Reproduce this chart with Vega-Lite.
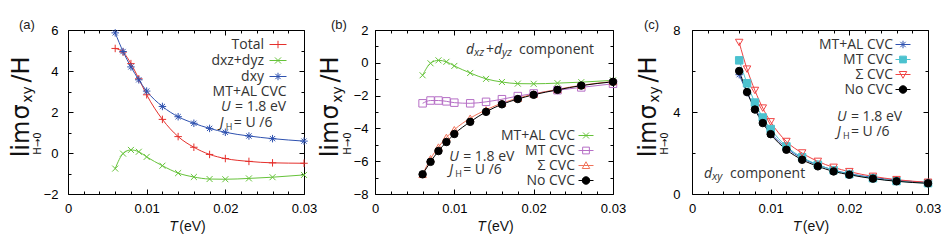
{
  "$schema": "https://vega.github.io/schema/vega-lite/v6.json",
  "padding": {"left": 8, "top": 18, "right": 0, "bottom": 0},
  "datasets": {
    "a": [
      {"T": 0.006, "v": 5.10, "s": "Total"}, {"T": 0.007, "v": 4.92, "s": "Total"}, {"T": 0.008, "v": 4.36, "s": "Total"}, {"T": 0.009, "v": 3.62, "s": "Total"}, {"T": 0.010, "v": 2.84, "s": "Total"}, {"T": 0.012, "v": 1.64, "s": "Total"}, {"T": 0.014, "v": 0.80, "s": "Total"}, {"T": 0.016, "v": 0.28, "s": "Total"}, {"T": 0.018, "v": -0.07, "s": "Total"}, {"T": 0.020, "v": -0.27, "s": "Total"}, {"T": 0.023, "v": -0.41, "s": "Total"}, {"T": 0.026, "v": -0.48, "s": "Total"}, {"T": 0.030, "v": -0.50, "s": "Total"},
      {"T": 0.006, "v": -0.76, "s": "dxz+dyz"}, {"T": 0.007, "v": -0.03, "s": "dxz+dyz"}, {"T": 0.008, "v": 0.15, "s": "dxz+dyz"}, {"T": 0.009, "v": 0.06, "s": "dxz+dyz"}, {"T": 0.010, "v": -0.19, "s": "dxz+dyz"}, {"T": 0.012, "v": -0.62, "s": "dxz+dyz"}, {"T": 0.014, "v": -0.98, "s": "dxz+dyz"}, {"T": 0.016, "v": -1.17, "s": "dxz+dyz"}, {"T": 0.018, "v": -1.27, "s": "dxz+dyz"}, {"T": 0.020, "v": -1.28, "s": "dxz+dyz"}, {"T": 0.023, "v": -1.24, "s": "dxz+dyz"}, {"T": 0.026, "v": -1.18, "s": "dxz+dyz"}, {"T": 0.030, "v": -1.07, "s": "dxz+dyz"},
      {"T": 0.006, "v": 5.86, "s": "dxy"}, {"T": 0.007, "v": 4.95, "s": "dxy"}, {"T": 0.008, "v": 4.20, "s": "dxy"}, {"T": 0.009, "v": 3.57, "s": "dxy"}, {"T": 0.010, "v": 3.02, "s": "dxy"}, {"T": 0.012, "v": 2.27, "s": "dxy"}, {"T": 0.014, "v": 1.77, "s": "dxy"}, {"T": 0.016, "v": 1.45, "s": "dxy"}, {"T": 0.018, "v": 1.20, "s": "dxy"}, {"T": 0.020, "v": 1.01, "s": "dxy"}, {"T": 0.023, "v": 0.83, "s": "dxy"}, {"T": 0.026, "v": 0.70, "s": "dxy"}, {"T": 0.030, "v": 0.58, "s": "dxy"}
    ],
    "b": [
      {"T": 0.006, "v": -0.76, "s": "MT+AL CVC"}, {"T": 0.007, "v": -0.03, "s": "MT+AL CVC"}, {"T": 0.008, "v": 0.15, "s": "MT+AL CVC"}, {"T": 0.009, "v": 0.06, "s": "MT+AL CVC"}, {"T": 0.010, "v": -0.19, "s": "MT+AL CVC"}, {"T": 0.012, "v": -0.62, "s": "MT+AL CVC"}, {"T": 0.014, "v": -0.98, "s": "MT+AL CVC"}, {"T": 0.016, "v": -1.17, "s": "MT+AL CVC"}, {"T": 0.018, "v": -1.27, "s": "MT+AL CVC"}, {"T": 0.020, "v": -1.28, "s": "MT+AL CVC"}, {"T": 0.023, "v": -1.24, "s": "MT+AL CVC"}, {"T": 0.026, "v": -1.18, "s": "MT+AL CVC"}, {"T": 0.030, "v": -1.07, "s": "MT+AL CVC"},
      {"T": 0.006, "v": -2.47, "s": "MT CVC"}, {"T": 0.007, "v": -2.30, "s": "MT CVC"}, {"T": 0.008, "v": -2.30, "s": "MT CVC"}, {"T": 0.009, "v": -2.35, "s": "MT CVC"}, {"T": 0.010, "v": -2.43, "s": "MT CVC"}, {"T": 0.012, "v": -2.47, "s": "MT CVC"}, {"T": 0.014, "v": -2.38, "s": "MT CVC"}, {"T": 0.016, "v": -2.22, "s": "MT CVC"}, {"T": 0.018, "v": -2.03, "s": "MT CVC"}, {"T": 0.020, "v": -1.87, "s": "MT CVC"}, {"T": 0.023, "v": -1.67, "s": "MT CVC"}, {"T": 0.026, "v": -1.50, "s": "MT CVC"}, {"T": 0.030, "v": -1.28, "s": "MT CVC"},
      {"T": 0.006, "v": -6.80, "s": "Σ CVC"}, {"T": 0.007, "v": -5.85, "s": "Σ CVC"}, {"T": 0.008, "v": -5.14, "s": "Σ CVC"}, {"T": 0.009, "v": -4.55, "s": "Σ CVC"}, {"T": 0.010, "v": -4.08, "s": "Σ CVC"}, {"T": 0.012, "v": -3.38, "s": "Σ CVC"}, {"T": 0.014, "v": -2.87, "s": "Σ CVC"}, {"T": 0.016, "v": -2.46, "s": "Σ CVC"}, {"T": 0.018, "v": -2.16, "s": "Σ CVC"}, {"T": 0.020, "v": -1.91, "s": "Σ CVC"}, {"T": 0.023, "v": -1.62, "s": "Σ CVC"}, {"T": 0.026, "v": -1.37, "s": "Σ CVC"}, {"T": 0.030, "v": -1.14, "s": "Σ CVC"},
      {"T": 0.006, "v": -6.80, "s": "No CVC"}, {"T": 0.007, "v": -6.04, "s": "No CVC"}, {"T": 0.008, "v": -5.38, "s": "No CVC"}, {"T": 0.009, "v": -4.83, "s": "No CVC"}, {"T": 0.010, "v": -4.34, "s": "No CVC"}, {"T": 0.012, "v": -3.60, "s": "No CVC"}, {"T": 0.014, "v": -2.99, "s": "No CVC"}, {"T": 0.016, "v": -2.53, "s": "No CVC"}, {"T": 0.018, "v": -2.21, "s": "No CVC"}, {"T": 0.020, "v": -1.95, "s": "No CVC"}, {"T": 0.023, "v": -1.65, "s": "No CVC"}, {"T": 0.026, "v": -1.39, "s": "No CVC"}, {"T": 0.030, "v": -1.16, "s": "No CVC"}
    ],
    "c": [
      {"T": 0.006, "v": 5.82, "s": "MT+AL CVC"}, {"T": 0.007, "v": 4.95, "s": "MT+AL CVC"}, {"T": 0.008, "v": 4.18, "s": "MT+AL CVC"}, {"T": 0.009, "v": 3.55, "s": "MT+AL CVC"}, {"T": 0.010, "v": 3.00, "s": "MT+AL CVC"}, {"T": 0.012, "v": 2.25, "s": "MT+AL CVC"}, {"T": 0.014, "v": 1.74, "s": "MT+AL CVC"}, {"T": 0.016, "v": 1.42, "s": "MT+AL CVC"}, {"T": 0.018, "v": 1.17, "s": "MT+AL CVC"}, {"T": 0.020, "v": 0.99, "s": "MT+AL CVC"}, {"T": 0.023, "v": 0.81, "s": "MT+AL CVC"}, {"T": 0.026, "v": 0.68, "s": "MT+AL CVC"}, {"T": 0.030, "v": 0.56, "s": "MT+AL CVC"},
      {"T": 0.006, "v": 6.52, "s": "MT CVC"}, {"T": 0.007, "v": 5.40, "s": "MT CVC"}, {"T": 0.008, "v": 4.46, "s": "MT CVC"}, {"T": 0.009, "v": 3.73, "s": "MT CVC"}, {"T": 0.010, "v": 3.17, "s": "MT CVC"}, {"T": 0.012, "v": 2.32, "s": "MT CVC"}, {"T": 0.014, "v": 1.79, "s": "MT CVC"}, {"T": 0.016, "v": 1.43, "s": "MT CVC"}, {"T": 0.018, "v": 1.16, "s": "MT CVC"}, {"T": 0.020, "v": 0.97, "s": "MT CVC"}, {"T": 0.023, "v": 0.77, "s": "MT CVC"}, {"T": 0.026, "v": 0.63, "s": "MT CVC"}, {"T": 0.030, "v": 0.53, "s": "MT CVC"},
      {"T": 0.006, "v": 7.39, "s": "Σ CVC"}, {"T": 0.007, "v": 6.09, "s": "Σ CVC"}, {"T": 0.008, "v": 5.05, "s": "Σ CVC"}, {"T": 0.009, "v": 4.19, "s": "Σ CVC"}, {"T": 0.010, "v": 3.52, "s": "Σ CVC"}, {"T": 0.012, "v": 2.56, "s": "Σ CVC"}, {"T": 0.014, "v": 2.00, "s": "Σ CVC"}, {"T": 0.016, "v": 1.59, "s": "Σ CVC"}, {"T": 0.018, "v": 1.30, "s": "Σ CVC"}, {"T": 0.020, "v": 1.09, "s": "Σ CVC"}, {"T": 0.023, "v": 0.86, "s": "Σ CVC"}, {"T": 0.026, "v": 0.70, "s": "Σ CVC"}, {"T": 0.030, "v": 0.57, "s": "Σ CVC"},
      {"T": 0.006, "v": 6.00, "s": "No CVC"}, {"T": 0.007, "v": 4.97, "s": "No CVC"}, {"T": 0.008, "v": 4.12, "s": "No CVC"}, {"T": 0.009, "v": 3.46, "s": "No CVC"}, {"T": 0.010, "v": 2.92, "s": "No CVC"}, {"T": 0.012, "v": 2.16, "s": "No CVC"}, {"T": 0.014, "v": 1.67, "s": "No CVC"}, {"T": 0.016, "v": 1.35, "s": "No CVC"}, {"T": 0.018, "v": 1.10, "s": "No CVC"}, {"T": 0.020, "v": 0.94, "s": "No CVC"}, {"T": 0.023, "v": 0.75, "s": "No CVC"}, {"T": 0.026, "v": 0.62, "s": "No CVC"}, {"T": 0.030, "v": 0.52, "s": "No CVC"}
    ]
  },
  "spacing": 0,
  "resolve": {"scale": {"x": "independent", "y": "independent", "stroke": "independent", "fill": "independent", "shape": "independent"}, "legend": {"stroke": "independent", "fill": "independent", "shape": "independent"}},
  "hconcat": [
    {
      "width": 236, "height": 164,
      "title": {"text": "(a)", "dx": -49, "dy": 4},
      "data": {"name": "a"},
      "resolve": {"axis": {"x": "independent", "y": "independent"}},
      "layer": [
        {"mark": {"type": "line", "interpolate": "monotone", "strokeWidth": 1},
         "encoding": {
           "x": {"field": "T", "type": "quantitative", "scale": {"domain": [0, 0.03], "nice": false, "zero": false},
                 "axis": {"orient": "bottom", "values": [0, 0.01, 0.02, 0.03], "format": ".2~f", "tickSize": -5, "labelPadding": 13, "labelFlush": false, "title": null, "offset": 0}},
           "y": {"field": "v", "type": "quantitative", "scale": {"domain": [-2, 6], "nice": false, "zero": false},
                 "axis": {"orient": "left", "values": [-2, 0, 2, 4, 6], "tickSize": -5, "labelPadding": 15, "title": null, "offset": 0}},
           "stroke": {"field": "s", "type": "nominal", "scale": {"domain": ["Total", "dxz+dyz", "dxy"], "range": ["#e5302c", "#66c33a", "#2f52b0"]},
             "legend": {"orient": "none", "legendX": 201, "legendY": 5.5, "title": null, "labelAlign": "right", "labelOffset": -23, "symbolSize": 289,
               "encoding": {"symbols": {"shape": {"value": {"expr": "datum.value == 'Total' ? 'M-1,0H1M0,-0.44V0.44' : datum.value == 'dxz+dyz' ? 'M-1,0H1M-0.36,-0.36L0.36,0.36M-0.36,0.36L0.36,-0.36' : 'M-1,0H1M0,-0.44V0.44M-0.31,-0.31L0.31,0.31M-0.31,0.31L0.31,-0.31'"}}}}}}
         }},
        {"mark": {"type": "point", "size": 56, "strokeWidth": 1, "opacity": 1, "filled": false},
         "encoding": {
           "x": {"field": "T", "type": "quantitative", "axis": {"orient": "bottom", "values": [0.002, 0.004, 0.006, 0.008, 0.012, 0.014, 0.016, 0.018, 0.022, 0.024, 0.026, 0.028], "tickSize": -3, "labels": false, "title": null, "offset": 0}},
           "y": {"field": "v", "type": "quantitative", "axis": {"orient": "left", "values": [-1, 1, 3, 5], "tickSize": -3, "labels": false, "title": "H→0", "titleFontSize": 10, "titleAlign": "center", "titleY": 113, "titlePadding": 25, "offset": 0}},
           "stroke": {"field": "s", "type": "nominal",
             "legend": {"orient": "none", "legendX": 201, "legendY": 5.5, "title": null, "labelAlign": "right", "labelOffset": -23, "symbolSize": 289,
               "encoding": {"symbols": {"shape": {"value": {"expr": "datum.value == 'Total' ? 'M-1,0H1M0,-0.44V0.44' : datum.value == 'dxz+dyz' ? 'M-1,0H1M-0.36,-0.36L0.36,0.36M-0.36,0.36L0.36,-0.36' : 'M-1,0H1M0,-0.44V0.44M-0.31,-0.31L0.31,0.31M-0.31,0.31L0.31,-0.31'"}}}}}},
           "shape": {"field": "s", "type": "nominal",
             "scale": {"domain": ["dxy", "dxz+dyz", "Total"], "range": ["M-1,0H1M0,-1V1M-0.7,-0.7L0.7,0.7M-0.7,0.7L0.7,-0.7", "M-0.8,-0.8L0.8,0.8M-0.8,0.8L0.8,-0.8", "M-1,0H1M0,-1V1"]},
             "legend": null}
         }},
        {"data": {"values": [{}]},
         "mark": {"type": "text", "align": "right", "baseline": "middle", "text": "MT+AL CVC"},
         "encoding": {
           "x": {"datum": 0.0278, "type": "quantitative", "axis": {"orient": "top", "values": [0, 0.01, 0.02, 0.03], "tickSize": -5, "labels": false, "title": null, "offset": 0}},
           "y": {"datum": 2.98, "type": "quantitative", "axis": {"orient": "right", "values": [-2, 0, 2, 4, 6], "tickSize": -5, "labels": false, "title": null, "offset": 0}}
         }},
        {"data": {"values": [{}]},
         "mark": {"type": "text", "align": "left", "baseline": "middle", "fontStyle": "italic", "text": "U"},
         "encoding": {
           "x": {"datum": 0.01945, "type": "quantitative", "axis": {"orient": "top", "values": [0.002, 0.004, 0.006, 0.008, 0.012, 0.014, 0.016, 0.018, 0.022, 0.024, 0.026, 0.028], "tickSize": -3, "labels": false, "title": null, "offset": 0}},
           "y": {"datum": 2.24, "type": "quantitative", "axis": {"orient": "right", "values": [-1, 1, 3, 5], "tickSize": -3, "labels": false, "title": null, "offset": 0}}
         }},
        {"data": {"values": [{}]},
         "mark": {"type": "text", "align": "left", "baseline": "middle", "dx": 14, "text": "= 1.8 eV"},
         "encoding": {
           "x": {"datum": 0.01945, "type": "quantitative", "axis": {"orient": "bottom", "ticks": false, "labels": false, "title": "T", "titleFont": "Liberation Sans", "titleFontSize": 14, "titleFontStyle": "italic", "titleX": 105, "titlePadding": 25, "offset": 0}},
           "y": {"datum": 2.24, "type": "quantitative", "axis": {"orient": "left", "ticks": false, "labels": false, "title": "lim", "titleFontSize": 24, "titleAlign": "center", "titleY": 108.5, "titlePadding": 35, "offset": 0}}
         }},
        {"data": {"values": [{}]},
         "mark": {"type": "text", "align": "left", "baseline": "middle", "fontStyle": "italic", "text": "J"},
         "encoding": {
           "x": {"datum": 0.0193, "type": "quantitative", "axis": {"orient": "bottom", "ticks": false, "labels": false, "title": "(eV)", "titleFont": "Liberation Sans", "titleFontSize": 14, "titleX": 124, "titlePadding": 25, "offset": 0}},
           "y": {"datum": 1.46, "type": "quantitative", "axis": {"orient": "left", "ticks": false, "labels": false, "title": "σ", "titleFontSize": 24, "titleAlign": "center", "titleY": 81.5, "titlePadding": 35, "offset": 0}}
         }},
        {"data": {"values": [{}]},
         "mark": {"type": "text", "align": "left", "baseline": "middle", "fontSize": 9, "dx": 6, "dy": 4, "text": "H"},
         "encoding": {
           "x": {"datum": 0.0193, "type": "quantitative", "axis": null},
           "y": {"datum": 1.46, "type": "quantitative", "axis": {"orient": "left", "ticks": false, "labels": false, "title": "xy", "titleFontSize": 14, "titleAlign": "center", "titleY": 64, "titlePadding": 33.1, "offset": 0}}
         }},
        {"data": {"values": [{}]},
         "mark": {"type": "text", "align": "left", "baseline": "middle", "dx": 14, "text": "= U /6"},
         "encoding": {
           "x": {"datum": 0.0193, "type": "quantitative", "axis": null},
           "y": {"datum": 1.46, "type": "quantitative", "axis": {"orient": "left", "ticks": false, "labels": false, "title": "/H", "titleFontSize": 24, "titleAlign": "center", "titleY": 39, "titlePadding": 35, "offset": 0}}
         }}
      ]
    },
    {
      "spacing": 8,
      "resolve": {"scale": {"x": "independent", "y": "independent", "stroke": "independent", "fill": "independent", "shape": "independent"}, "legend": {"stroke": "independent", "fill": "independent", "shape": "independent"}},
      "hconcat": [
        {
          "width": 238, "height": 164,
          "title": {"text": "(b)", "dx": -44, "dy": 4},
          "data": {"name": "b"},
          "resolve": {"axis": {"x": "independent", "y": "independent"}},
          "layer": [
            {"mark": {"type": "line", "interpolate": "monotone", "strokeWidth": 1},
             "encoding": {
               "x": {"field": "T", "type": "quantitative", "scale": {"domain": [0, 0.03], "nice": false, "zero": false},
                     "axis": {"orient": "bottom", "values": [0, 0.01, 0.02, 0.03], "format": ".2~f", "tickSize": -5, "labelPadding": 13, "labelFlush": false, "title": null, "offset": 0}},
               "y": {"field": "v", "type": "quantitative", "scale": {"domain": [-8, 2], "nice": false, "zero": false},
                     "axis": {"orient": "left", "values": [-8, -6, -4, -2, 0, 2], "tickSize": -5, "labelPadding": 12, "title": null, "offset": 0}},
               "stroke": {"field": "s", "type": "nominal", "scale": {"domain": ["MT+AL CVC", "MT CVC", "Σ CVC", "No CVC"], "range": ["#66c33a", "#b66fc6", "#f0735a", "#000000"]},
                 "legend": {"orient": "none", "legendX": 203, "legendY": 97.5, "title": null, "labelAlign": "right", "labelOffset": -19, "symbolSize": 225,
                   "encoding": {"symbols": {"shape": {"value": {"expr": "datum.value == 'MT+AL CVC' ? 'M-1,0H1M-0.4,-0.4L0.4,0.4M-0.4,0.4L0.4,-0.4' : datum.value == 'MT CVC' ? 'M-1,0H1M-0.45,-0.45H0.45V0.45H-0.45Z' : datum.value == 'No CVC' ? 'M-1,0H1M0.5,0A0.5,0.5,0,1,1,-0.5,0A0.5,0.5,0,1,1,0.5,0Z' : 'M-1,0H1M0,-0.5L0.5,0.4H-0.5Z'"}}}}}}
             }},
            {"mark": {"type": "point", "size": 56, "strokeWidth": 1, "opacity": 1, "filled": false},
             "encoding": {
               "x": {"field": "T", "type": "quantitative", "axis": {"orient": "bottom", "values": [0.002, 0.004, 0.006, 0.008, 0.012, 0.014, 0.016, 0.018, 0.022, 0.024, 0.026, 0.028], "tickSize": -3, "labels": false, "title": null, "offset": 0}},
               "y": {"field": "v", "type": "quantitative", "axis": {"orient": "left", "values": [-7, -5, -3, -1, 1], "tickSize": -3, "labels": false, "title": "H→0", "titleFontSize": 10, "titleAlign": "center", "titleY": 113, "titlePadding": 22.3, "offset": 0}},
               "stroke": {"field": "s", "type": "nominal",
                 "legend": {"orient": "none", "legendX": 203, "legendY": 97.5, "title": null, "labelAlign": "right", "labelOffset": -19, "symbolSize": 225,
                   "encoding": {"symbols": {"shape": {"value": {"expr": "datum.value == 'MT+AL CVC' ? 'M-1,0H1M-0.4,-0.4L0.4,0.4M-0.4,0.4L0.4,-0.4' : datum.value == 'MT CVC' ? 'M-1,0H1M-0.45,-0.45H0.45V0.45H-0.45Z' : datum.value == 'No CVC' ? 'M-1,0H1M0.5,0A0.5,0.5,0,1,1,-0.5,0A0.5,0.5,0,1,1,0.5,0Z' : 'M-1,0H1M0,-0.5L0.5,0.4H-0.5Z'"}}}}}},
               "fill": {"field": "s", "type": "nominal", "scale": {"domain": ["MT+AL CVC", "MT CVC", "Σ CVC", "No CVC"], "range": ["transparent", "transparent", "transparent", "#000000"]},
                 "legend": {"orient": "none", "legendX": 203, "legendY": 97.5, "title": null, "labelAlign": "right", "labelOffset": -19, "symbolSize": 225,
                   "encoding": {"symbols": {"shape": {"value": {"expr": "datum.value == 'MT+AL CVC' ? 'M-1,0H1M-0.4,-0.4L0.4,0.4M-0.4,0.4L0.4,-0.4' : datum.value == 'MT CVC' ? 'M-1,0H1M-0.45,-0.45H0.45V0.45H-0.45Z' : datum.value == 'No CVC' ? 'M-1,0H1M0.5,0A0.5,0.5,0,1,1,-0.5,0A0.5,0.5,0,1,1,0.5,0Z' : 'M-1,0H1M0,-0.5L0.5,0.4H-0.5Z'"}}}}}},
               "shape": {"field": "s", "type": "nominal",
                 "scale": {"domain": ["No CVC", "Σ CVC", "MT CVC", "MT+AL CVC"], "range": ["circle", "triangle-up", "square", "M-0.8,-0.8L0.8,0.8M-0.8,0.8L0.8,-0.8"]},
                 "legend": null}
             }},
            {"data": {"values": [{}]},
             "mark": {"type": "text", "align": "left", "baseline": "middle", "fontStyle": "italic", "text": "d"},
             "encoding": {
               "x": {"datum": 0.01147, "type": "quantitative", "axis": {"orient": "top", "values": [0, 0.01, 0.02, 0.03], "tickSize": -5, "labels": false, "title": null, "offset": 0}},
               "y": {"datum": 0.78, "type": "quantitative", "axis": {"orient": "right", "values": [-8, -6, -4, -2, 0, 2], "tickSize": -5, "labels": false, "title": null, "offset": 0}}
             }},
            {"data": {"values": [{}]},
             "mark": {"type": "text", "align": "left", "baseline": "middle", "fontStyle": "italic", "fontSize": 11, "dx": 8, "dy": 3, "text": "xz"},
             "encoding": {
               "x": {"datum": 0.01147, "type": "quantitative", "axis": {"orient": "top", "values": [0.002, 0.004, 0.006, 0.008, 0.012, 0.014, 0.016, 0.018, 0.022, 0.024, 0.026, 0.028], "tickSize": -3, "labels": false, "title": null, "offset": 0}},
               "y": {"datum": 0.78, "type": "quantitative", "axis": {"orient": "right", "values": [-7, -5, -3, -1, 1], "tickSize": -3, "labels": false, "title": null, "offset": 0}}
             }},
            {"data": {"values": [{}]},
             "mark": {"type": "text", "align": "left", "baseline": "middle", "dx": 20, "text": "+"},
             "encoding": {
               "x": {"datum": 0.01147, "type": "quantitative", "axis": {"orient": "bottom", "ticks": false, "labels": false, "title": "T", "titleFont": "Liberation Sans", "titleFontSize": 14, "titleFontStyle": "italic", "titleX": 106, "titlePadding": 25, "offset": 0}},
               "y": {"datum": 0.78, "type": "quantitative", "axis": {"orient": "left", "ticks": false, "labels": false, "title": "lim", "titleFontSize": 24, "titleAlign": "center", "titleY": 108.5, "titlePadding": 32.3, "offset": 0}}
             }},
            {"data": {"values": [{}]},
             "mark": {"type": "text", "align": "left", "baseline": "middle", "fontStyle": "italic", "dx": 28, "text": "d"},
             "encoding": {
               "x": {"datum": 0.01147, "type": "quantitative", "axis": {"orient": "bottom", "ticks": false, "labels": false, "title": "(eV)", "titleFont": "Liberation Sans", "titleFontSize": 14, "titleX": 125, "titlePadding": 25, "offset": 0}},
               "y": {"datum": 0.78, "type": "quantitative", "axis": {"orient": "left", "ticks": false, "labels": false, "title": "σ", "titleFontSize": 24, "titleAlign": "center", "titleY": 81.5, "titlePadding": 32.3, "offset": 0}}
             }},
            {"data": {"values": [{}]},
             "mark": {"type": "text", "align": "left", "baseline": "middle", "fontStyle": "italic", "fontSize": 11, "dx": 36, "dy": 3, "text": "yz"},
             "encoding": {
               "x": {"datum": 0.01147, "type": "quantitative", "axis": null},
               "y": {"datum": 0.78, "type": "quantitative", "axis": {"orient": "left", "ticks": false, "labels": false, "title": "xy", "titleFontSize": 14, "titleAlign": "center", "titleY": 64, "titlePadding": 30.4, "offset": 0}}
             }},
            {"data": {"values": [{}]},
             "mark": {"type": "text", "align": "left", "baseline": "middle", "dx": 53, "text": "component"},
             "encoding": {
               "x": {"datum": 0.01147, "type": "quantitative", "axis": null},
               "y": {"datum": 0.78, "type": "quantitative", "axis": {"orient": "left", "ticks": false, "labels": false, "title": "/H", "titleFontSize": 24, "titleAlign": "center", "titleY": 39, "titlePadding": 32.3, "offset": 0}}
             }},
            {"data": {"values": [{}]},
             "mark": {"type": "text", "align": "left", "baseline": "middle", "fontStyle": "italic", "text": "U"},
             "encoding": {"x": {"datum": 0.00935, "type": "quantitative", "axis": null}, "y": {"datum": -5.74, "type": "quantitative", "axis": null}}},
            {"data": {"values": [{}]},
             "mark": {"type": "text", "align": "left", "baseline": "middle", "dx": 14, "text": "= 1.8 eV"},
             "encoding": {"x": {"datum": 0.00935, "type": "quantitative", "axis": null}, "y": {"datum": -5.74, "type": "quantitative", "axis": null}}},
            {"data": {"values": [{}]},
             "mark": {"type": "text", "align": "left", "baseline": "middle", "fontStyle": "italic", "text": "J"},
             "encoding": {"x": {"datum": 0.00935, "type": "quantitative", "axis": null}, "y": {"datum": -6.54, "type": "quantitative", "axis": null}}},
            {"data": {"values": [{}]},
             "mark": {"type": "text", "align": "left", "baseline": "middle", "fontSize": 9, "dx": 6, "dy": 4, "text": "H"},
             "encoding": {"x": {"datum": 0.00935, "type": "quantitative", "axis": null}, "y": {"datum": -6.54, "type": "quantitative", "axis": null}}},
            {"data": {"values": [{}]},
             "mark": {"type": "text", "align": "left", "baseline": "middle", "dx": 14, "text": "= U /6"},
             "encoding": {"x": {"datum": 0.00935, "type": "quantitative", "axis": null}, "y": {"datum": -6.54, "type": "quantitative", "axis": null}}}
          ]
        },
        {
          "width": 236, "height": 164,
          "title": {"text": "(c)", "dx": -48, "dy": 4},
          "data": {"name": "c"},
          "resolve": {"axis": {"x": "independent", "y": "independent"}},
          "layer": [
            {"mark": {"type": "line", "interpolate": "monotone", "strokeWidth": 1},
             "encoding": {
               "x": {"field": "T", "type": "quantitative", "scale": {"domain": [0, 0.03], "nice": false, "zero": false},
                     "axis": {"orient": "bottom", "values": [0, 0.01, 0.02, 0.03], "format": ".2~f", "tickSize": -5, "labelPadding": 13, "labelFlush": false, "title": null, "offset": 0}},
               "y": {"field": "v", "type": "quantitative", "scale": {"domain": [0, 8], "nice": false, "zero": false},
                     "axis": {"orient": "left", "values": [0, 4, 8], "tickSize": -5, "labelPadding": 17, "title": null, "offset": 0}},
               "stroke": {"field": "s", "type": "nominal", "scale": {"domain": ["MT+AL CVC", "MT CVC", "Σ CVC", "No CVC"], "range": ["#2f52b0", "#4cc2cf", "#f04545", "#000000"]},
                 "legend": {"orient": "none", "legendX": 203, "legendY": 6.5, "title": null, "labelAlign": "right", "labelOffset": -18, "symbolSize": 225,
                   "encoding": {"symbols": {"shape": {"value": {"expr": "datum.value == 'MT+AL CVC' ? 'M-1,0H1M0,-0.5V0.5M-0.36,-0.36L0.36,0.36M-0.36,0.36L0.36,-0.36' : datum.value == 'MT CVC' ? 'M-1,0H1M-0.45,-0.45H0.45V0.45H-0.45Z' : datum.value == 'No CVC' ? 'M-1,0H1M0.5,0A0.5,0.5,0,1,1,-0.5,0A0.5,0.5,0,1,1,0.5,0Z' : 'M-1,0H1M0,0.5L0.5,-0.4H-0.5Z'"}}}}}}
             }},
            {"mark": {"type": "point", "size": 56, "strokeWidth": 1, "opacity": 1, "filled": false},
             "encoding": {
               "x": {"field": "T", "type": "quantitative", "axis": {"orient": "bottom", "values": [0.002, 0.004, 0.006, 0.008, 0.012, 0.014, 0.016, 0.018, 0.022, 0.024, 0.026, 0.028], "tickSize": -3, "labels": false, "title": null, "offset": 0}},
               "y": {"field": "v", "type": "quantitative", "axis": {"orient": "left", "values": [2, 6], "tickSize": -3, "labels": false, "title": "H→0", "titleFontSize": 10, "titleAlign": "center", "titleY": 113, "titlePadding": 22, "offset": 0}},
               "stroke": {"field": "s", "type": "nominal",
                 "legend": {"orient": "none", "legendX": 203, "legendY": 6.5, "title": null, "labelAlign": "right", "labelOffset": -18, "symbolSize": 225,
                   "encoding": {"symbols": {"shape": {"value": {"expr": "datum.value == 'MT+AL CVC' ? 'M-1,0H1M0,-0.5V0.5M-0.36,-0.36L0.36,0.36M-0.36,0.36L0.36,-0.36' : datum.value == 'MT CVC' ? 'M-1,0H1M-0.45,-0.45H0.45V0.45H-0.45Z' : datum.value == 'No CVC' ? 'M-1,0H1M0.5,0A0.5,0.5,0,1,1,-0.5,0A0.5,0.5,0,1,1,0.5,0Z' : 'M-1,0H1M0,0.5L0.5,-0.4H-0.5Z'"}}}}}},
               "fill": {"field": "s", "type": "nominal", "scale": {"domain": ["MT+AL CVC", "MT CVC", "Σ CVC", "No CVC"], "range": ["transparent", "#4cc2cf", "transparent", "#000000"]},
                 "legend": {"orient": "none", "legendX": 203, "legendY": 6.5, "title": null, "labelAlign": "right", "labelOffset": -18, "symbolSize": 225,
                   "encoding": {"symbols": {"shape": {"value": {"expr": "datum.value == 'MT+AL CVC' ? 'M-1,0H1M0,-0.5V0.5M-0.36,-0.36L0.36,0.36M-0.36,0.36L0.36,-0.36' : datum.value == 'MT CVC' ? 'M-1,0H1M-0.45,-0.45H0.45V0.45H-0.45Z' : datum.value == 'No CVC' ? 'M-1,0H1M0.5,0A0.5,0.5,0,1,1,-0.5,0A0.5,0.5,0,1,1,0.5,0Z' : 'M-1,0H1M0,0.5L0.5,-0.4H-0.5Z'"}}}}}},
               "shape": {"field": "s", "type": "nominal",
                 "scale": {"domain": ["No CVC", "Σ CVC", "MT CVC", "MT+AL CVC"], "range": ["circle", "triangle-down", "square", "M-1,0H1M0,-1V1M-0.7,-0.7L0.7,0.7M-0.7,0.7L0.7,-0.7"]},
                 "legend": null}
             }},
            {"data": {"values": [{}]},
             "mark": {"type": "text", "align": "left", "baseline": "middle", "fontStyle": "italic", "text": "d"},
             "encoding": {
               "x": {"datum": 0.00153, "type": "quantitative", "axis": {"orient": "top", "values": [0, 0.01, 0.02, 0.03], "tickSize": -5, "labels": false, "title": null, "offset": 0}},
               "y": {"datum": 0.98, "type": "quantitative", "axis": {"orient": "right", "values": [0, 4, 8], "tickSize": -5, "labels": false, "title": null, "offset": 0}}
             }},
            {"data": {"values": [{}]},
             "mark": {"type": "text", "align": "left", "baseline": "middle", "fontStyle": "italic", "fontSize": 11, "dx": 8, "dy": 3, "text": "xy"},
             "encoding": {
               "x": {"datum": 0.00153, "type": "quantitative", "axis": {"orient": "top", "values": [0.002, 0.004, 0.006, 0.008, 0.012, 0.014, 0.016, 0.018, 0.022, 0.024, 0.026, 0.028], "tickSize": -3, "labels": false, "title": null, "offset": 0}},
               "y": {"datum": 0.98, "type": "quantitative", "axis": {"orient": "right", "values": [2, 6], "tickSize": -3, "labels": false, "title": null, "offset": 0}}
             }},
            {"data": {"values": [{}]},
             "mark": {"type": "text", "align": "left", "baseline": "middle", "dx": 26, "text": "component"},
             "encoding": {
               "x": {"datum": 0.00153, "type": "quantitative", "axis": {"orient": "bottom", "ticks": false, "labels": false, "title": "T", "titleFont": "Liberation Sans", "titleFontSize": 14, "titleFontStyle": "italic", "titleX": 104.5, "titlePadding": 25, "offset": 0}},
               "y": {"datum": 0.98, "type": "quantitative", "axis": {"orient": "left", "ticks": false, "labels": false, "title": "lim", "titleFontSize": 24, "titleAlign": "center", "titleY": 108.5, "titlePadding": 32, "offset": 0}}
             }},
            {"data": {"values": [{}]},
             "mark": {"type": "text", "align": "left", "baseline": "middle", "fontStyle": "italic", "text": "U"},
             "encoding": {
               "x": {"datum": 0.01843, "type": "quantitative", "axis": {"orient": "bottom", "ticks": false, "labels": false, "title": "(eV)", "titleFont": "Liberation Sans", "titleFontSize": 14, "titleX": 123.5, "titlePadding": 25, "offset": 0}},
               "y": {"datum": 3.76, "type": "quantitative", "axis": {"orient": "left", "ticks": false, "labels": false, "title": "σ", "titleFontSize": 24, "titleAlign": "center", "titleY": 81.5, "titlePadding": 32, "offset": 0}}
             }},
            {"data": {"values": [{}]},
             "mark": {"type": "text", "align": "left", "baseline": "middle", "dx": 14, "text": "= 1.8 eV"},
             "encoding": {
               "x": {"datum": 0.01843, "type": "quantitative", "axis": null},
               "y": {"datum": 3.76, "type": "quantitative", "axis": {"orient": "left", "ticks": false, "labels": false, "title": "xy", "titleFontSize": 14, "titleAlign": "center", "titleY": 64, "titlePadding": 30.1, "offset": 0}}
             }},
            {"data": {"values": [{}]},
             "mark": {"type": "text", "align": "left", "baseline": "middle", "fontStyle": "italic", "text": "J"},
             "encoding": {
               "x": {"datum": 0.01843, "type": "quantitative", "axis": null},
               "y": {"datum": 3.02, "type": "quantitative", "axis": {"orient": "left", "ticks": false, "labels": false, "title": "/H", "titleFontSize": 24, "titleAlign": "center", "titleY": 39, "titlePadding": 32, "offset": 0}}
             }},
            {"data": {"values": [{}]},
             "mark": {"type": "text", "align": "left", "baseline": "middle", "fontSize": 9, "dx": 6, "dy": 4, "text": "H"},
             "encoding": {"x": {"datum": 0.01843, "type": "quantitative", "axis": null}, "y": {"datum": 3.02, "type": "quantitative", "axis": null}}},
            {"data": {"values": [{}]},
             "mark": {"type": "text", "align": "left", "baseline": "middle", "dx": 14, "text": "= U /6"},
             "encoding": {"x": {"datum": 0.01843, "type": "quantitative", "axis": null}, "y": {"datum": 3.02, "type": "quantitative", "axis": null}}}
          ]
        }
      ]
    }
  ],
  "config": {
    "view": {"stroke": "#000000", "strokeWidth": 1},
    "axis": {"domain": false, "grid": false, "tickColor": "#000000", "tickWidth": 1, "labelFont": "Liberation Sans", "labelFontSize": 13, "labelColor": "#000000", "titleFont": "DejaVu Sans", "titleFontWeight": "normal", "titleColor": "#111111", "labelOverlap": false, "labelFlush": false},
    "legend": {"labelFont": "Open Sans", "labelFontSize": 14, "labelColor": "#333333", "symbolStrokeWidth": 1, "rowPadding": 0, "padding": 0, "labelLimit": 300},
    "text": {"font": "Open Sans", "fontSize": 14, "color": "#333333"},
    "title": {"font": "Liberation Sans", "fontSize": 13, "fontWeight": "normal", "color": "#222222", "anchor": "start", "frame": "group", "offset": -4}
  }
}
